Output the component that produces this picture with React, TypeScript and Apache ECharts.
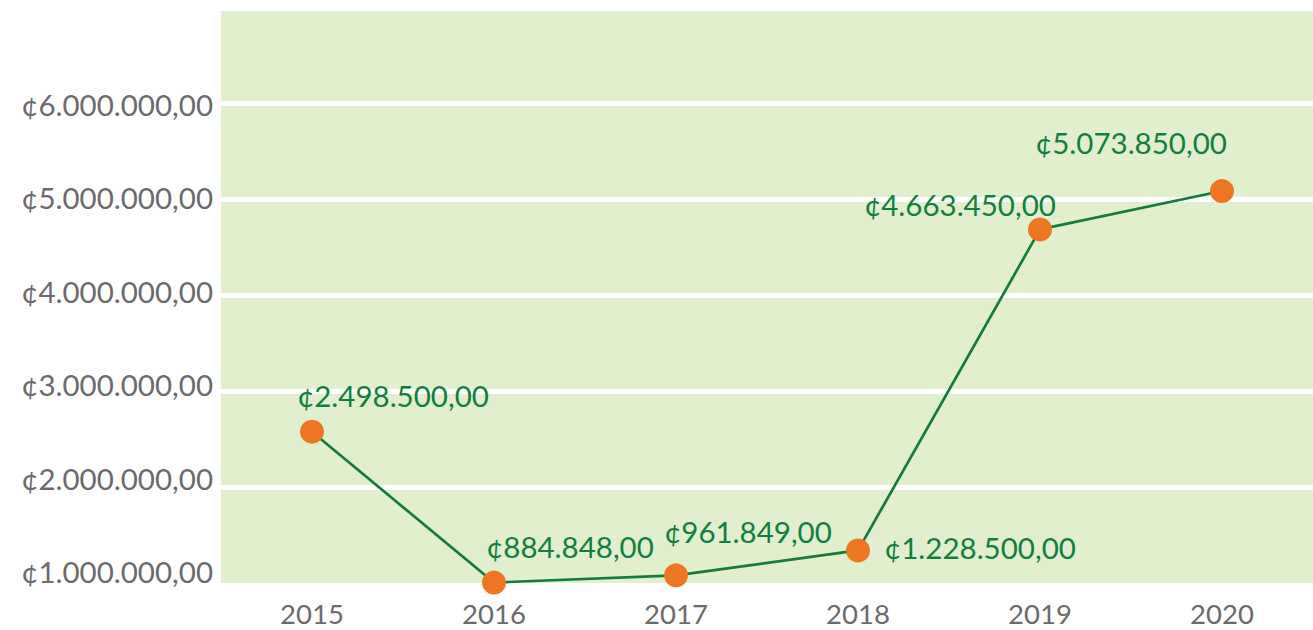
import React, { useEffect, useRef } from "react";
import * as echarts from "echarts";

const years = ["2015", "2016", "2017", "2018", "2019", "2020"];
const amounts = [2498500, 884848, 961849, 1228500, 4663450, 5073850];

// label placement offsets (style only)
const labelOffsets: [number, number][] = [
  [81, -36],
  [76, -36],
  [72, -44],
  [122, -3],
  [-80, -25],
  [-91, -49],
];

const fmt = (v: number) => {
  const s = Math.round(v).toString().replace(/\B(?=(\d{3})+(?!\d))/g, ".");
  return "¢" + s + ",00";
};

const FONT = "Lato, 'Open Sans', sans-serif";

export default function App() {
  const ref = useRef<HTMLDivElement>(null);
  useEffect(() => {
    document.body.style.margin = "0";
    const chart = echarts.init(ref.current!, undefined, { renderer: "svg" });
    chart.setOption({
      animation: false,
      textStyle: { fontFamily: FONT },
      grid: {
        left: 221,
        right: 0,
        top: 11,
        bottom: 47,
        show: true,
        backgroundColor: "#e2efcf",
        borderWidth: 0,
      },
      xAxis: {
        type: "category",
        data: years,
        axisLine: { show: false },
        axisTick: { show: false },
        axisLabel: {
          color: "#6b6b6b",
          fontSize: 27.5,
          lineHeight: 26,
          fontFamily: FONT,
          margin: 17,
        },
      },
      yAxis: [
        {
          type: "value",
          min: 880000,
          max: 7000000,
          axisLine: { show: false },
          axisTick: { show: false },
          splitLine: { show: false },
          axisLabel: {
            color: "#6b6b6b",
            fontSize: 29.5,
            fontFamily: FONT,
            margin: 8,
            showMinLabel: false,
            showMaxLabel: false,
            formatter: (v: number) => fmt(v),
          },
        },
        {
          type: "value",
          position: "left",
          min: 1000000,
          max: 6958333,
          interval: 1000000,
          axisLine: { show: false },
          axisTick: { show: false },
          axisLabel: { show: false },
          splitLine: {
            show: true,
            showMinLine: false,
            showMaxLine: false,
            lineStyle: { color: "#ffffff", width: 5 },
          },
        },
      ],
      series: [
        {
          type: "line",
          yAxisIndex: 0,
          data: amounts.map((v, i) => ({
            value: v,
            label: { offset: labelOffsets[i] },
          })),
          clip: false,
          symbol: "circle",
          symbolSize: 24,
          itemStyle: { color: "#ee7623" },
          lineStyle: { color: "#167a3a", width: 2.7 },
          emphasis: { disabled: true },
          label: {
            show: true,
            position: "inside",
            color: "#10803c",
            fontSize: 29.5,
            fontFamily: FONT,
            formatter: (p: any) => fmt(p.value),
          },
        },
      ],
    });
    return () => chart.dispose();
  }, []);
  return (
    <div
      ref={ref}
      style={{ position: "absolute", left: 0, top: 0, width: 1313, height: 630 }}
    />
  );
}
